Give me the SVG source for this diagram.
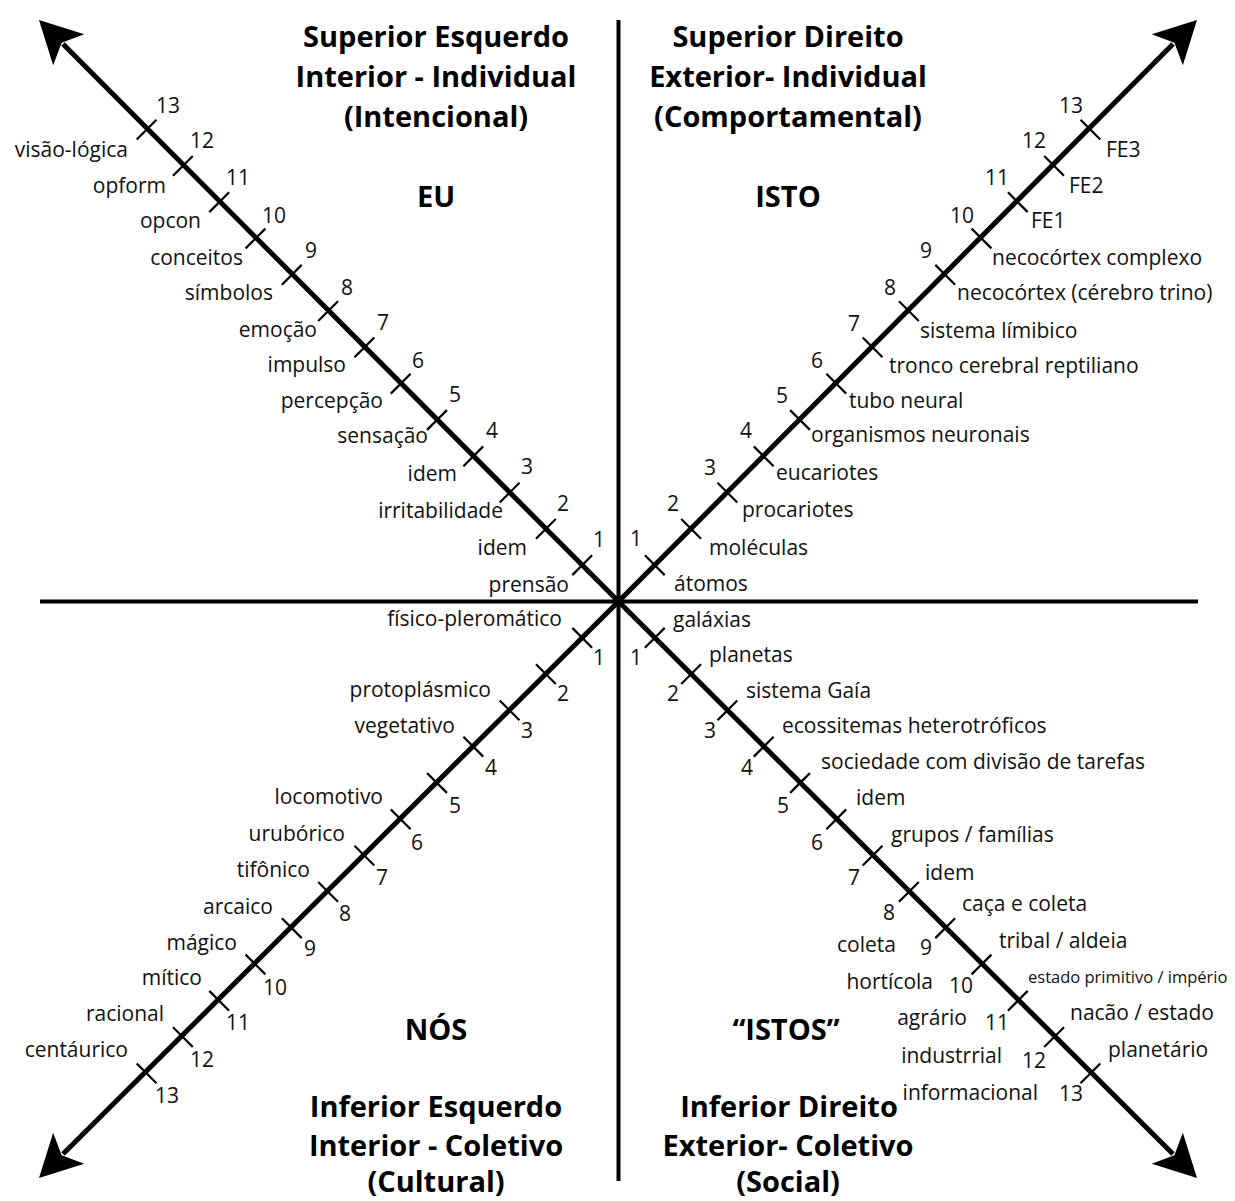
<svg xmlns="http://www.w3.org/2000/svg" xmlns:xlink="http://www.w3.org/1999/xlink" width="1235" height="1201" viewBox="0 0 1235 1201">
<style>
.lab{font-family:"Open Sans","Noto Sans","DejaVu Sans",sans-serif;font-size:21px;fill:#111}
.num{font-family:"Open Sans","Noto Sans","DejaVu Sans",sans-serif;font-size:21px;fill:#111;text-anchor:middle}
.e{text-anchor:end}
.sm{font-size:16.5px}
.tit{font-family:"Open Sans","Noto Sans","DejaVu Sans",sans-serif;font-size:29px;font-weight:bold;fill:#000;text-anchor:middle}
.axis{stroke:#000;stroke-width:4;fill:none}
.diag{stroke:#000;stroke-width:5;fill:none}
.tick{stroke:#000;stroke-width:2.2}
</style>
<defs>
<path id="ah" d="M0,0 L-42,-22 L-32,0 L-42,22 Z" fill="#000"/>
<line id="tA" class="tick" x1="-9.9" y1="9.9" x2="9.9" y2="-9.9"/>
<line id="tB" class="tick" x1="-9.9" y1="-9.9" x2="9.9" y2="9.9"/>
</defs>
<rect width="1235" height="1201" fill="#fff"/>

<g id="connectors">
<line class="axis" x1="618.5" y1="20" x2="618.5" y2="1181"/>
<line class="axis" x1="40" y1="601.5" x2="1198" y2="601.5"/>
<line class="diag" x1="618.5" y1="601.5" x2="63" y2="44"/>
<line class="diag" x1="618.5" y1="601.5" x2="1173" y2="44"/>
<line class="diag" x1="618.5" y1="601.5" x2="63" y2="1154"/>
<line class="diag" x1="618.5" y1="601.5" x2="1173" y2="1154"/>
<use xlink:href="#ah" href="#ah" transform="translate(39,20) rotate(-135)"/>
<use xlink:href="#ah" href="#ah" transform="translate(1197,20) rotate(-45)"/>
<use xlink:href="#ah" href="#ah" transform="translate(39,1178) rotate(135)"/>
<use xlink:href="#ah" href="#ah" transform="translate(1197,1178) rotate(45)"/>
</g>

<g id="ticks-tl">
<use href="#tA" x="582.2" y="565.2"/><use href="#tA" x="545.9" y="528.9"/><use href="#tA" x="509.6" y="492.6"/><use href="#tA" x="473.3" y="456.3"/><use href="#tA" x="437" y="420"/><use href="#tA" x="400.7" y="383.7"/><use href="#tA" x="364.4" y="347.4"/><use href="#tA" x="328.1" y="311.1"/><use href="#tA" x="291.8" y="274.8"/><use href="#tA" x="255.5" y="238.5"/><use href="#tA" x="219.2" y="202.2"/><use href="#tA" x="182.9" y="165.9"/><use href="#tA" x="146.6" y="129.6"/>
</g>
<g id="ticks-tr">
<use href="#tB" x="654.8" y="565.2"/><use href="#tB" x="691.1" y="528.9"/><use href="#tB" x="727.4" y="492.6"/><use href="#tB" x="763.7" y="456.3"/><use href="#tB" x="800" y="420"/><use href="#tB" x="836.3" y="383.7"/><use href="#tB" x="872.6" y="347.4"/><use href="#tB" x="908.9" y="311.1"/><use href="#tB" x="945.2" y="274.8"/><use href="#tB" x="981.5" y="238.5"/><use href="#tB" x="1017.8" y="202.2"/><use href="#tB" x="1054.1" y="165.9"/><use href="#tB" x="1090.4" y="129.6"/>
</g>
<g id="ticks-bl">
<use href="#tB" x="582.2" y="637.8"/><use href="#tB" x="545.9" y="674.1"/><use href="#tB" x="509.6" y="710.4"/><use href="#tB" x="473.3" y="746.7"/><use href="#tB" x="437" y="783"/><use href="#tB" x="400.7" y="819.3"/><use href="#tB" x="364.4" y="855.6"/><use href="#tB" x="328.1" y="891.9"/><use href="#tB" x="291.8" y="928.2"/><use href="#tB" x="255.5" y="964.5"/><use href="#tB" x="219.2" y="1000.8"/><use href="#tB" x="182.9" y="1037.1"/><use href="#tB" x="146.6" y="1073.4"/>
</g>
<g id="ticks-br">
<use href="#tA" x="654.8" y="637.8"/><use href="#tA" x="691.1" y="674.1"/><use href="#tA" x="727.4" y="710.4"/><use href="#tA" x="763.7" y="746.7"/><use href="#tA" x="800" y="783"/><use href="#tA" x="836.3" y="819.3"/><use href="#tA" x="872.6" y="855.6"/><use href="#tA" x="908.9" y="891.9"/><use href="#tA" x="945.2" y="928.2"/><use href="#tA" x="981.5" y="964.5"/><use href="#tA" x="1017.8" y="1000.8"/><use href="#tA" x="1054.1" y="1037.1"/><use href="#tA" x="1090.4" y="1073.4"/>
</g>

<g id="titles">
<text class="tit" x="436" y="47">Superior Esquerdo</text>
<text class="tit" x="436" y="87">Interior - Individual</text>
<text class="tit" x="436" y="127">(Intencional)</text>
<text class="tit" x="436" y="207">EU</text>
<text class="tit" x="788" y="47">Superior Direito</text>
<text class="tit" x="788" y="87">Exterior- Individual</text>
<text class="tit" x="788" y="127">(Comportamental)</text>
<text class="tit" x="788" y="207">ISTO</text>
<text class="tit" x="436" y="1040">NÓS</text>
<text class="tit" x="786" y="1040">“ISTOS”</text>
<text class="tit" x="436" y="1117">Inferior Esquerdo</text>
<text class="tit" x="436" y="1156">Interior - Coletivo</text>
<text class="tit" x="436" y="1192">(Cultural)</text>
<text class="tit" x="789" y="1117">Inferior Direito</text>
<text class="tit" x="788" y="1156">Exterior- Coletivo</text>
<text class="tit" x="788" y="1192">(Social)</text>
</g>

<g id="labels-tl">
<text class="lab e" x="128" y="157">visão-lógica</text>
<text class="lab e" x="166" y="193">opform</text>
<text class="lab e" x="201" y="228">opcon</text>
<text class="lab e" x="243" y="265">conceitos</text>
<text class="lab e" x="273" y="300">símbolos</text>
<text class="lab e" x="317" y="337">emoção</text>
<text class="lab e" x="346" y="372">impulso</text>
<text class="lab e" x="383" y="408">percepção</text>
<text class="lab e" x="428" y="443">sensação</text>
<text class="lab e" x="457" y="481">idem</text>
<text class="lab e" x="503" y="518">irritabilidade</text>
<text class="lab e" x="527" y="555">idem</text>
<text class="lab e" x="569" y="592">prensão</text>
</g>
<g id="numbers-tl">
<text class="num" x="168" y="112.5">13</text>
<text class="num" x="202" y="147.5">12</text>
<text class="num" x="238" y="184.5">11</text>
<text class="num" x="274" y="222.5">10</text>
<text class="num" x="311" y="257.5">9</text>
<text class="num" x="347" y="294.5">8</text>
<text class="num" x="383" y="329.5">7</text>
<text class="num" x="418" y="367.5">6</text>
<text class="num" x="455" y="401.5">5</text>
<text class="num" x="492" y="437.5">4</text>
<text class="num" x="527" y="473.5">3</text>
<text class="num" x="563" y="510.5">2</text>
<text class="num" x="599" y="546.5">1</text>
</g>

<g id="labels-tr">
<text class="lab" x="1106" y="157">FE3</text>
<text class="lab" x="1069" y="193">FE2</text>
<text class="lab" x="1031" y="228">FE1</text>
<text class="lab" x="992" y="265">necocórtex complexo</text>
<text class="lab" x="957" y="300">necocórtex (cérebro trino)</text>
<text class="lab" x="920" y="338">sistema límibico</text>
<text class="lab" x="889" y="373">tronco cerebral reptiliano</text>
<text class="lab" x="849" y="408">tubo neural</text>
<text class="lab" x="811" y="442">organismos neuronais</text>
<text class="lab" x="776" y="480">eucariotes</text>
<text class="lab" x="742" y="517">procariotes</text>
<text class="lab" x="709" y="555">moléculas</text>
<text class="lab" x="674" y="591">átomos</text>
</g>
<g id="numbers-tr">
<text class="num" x="1071" y="112.5">13</text>
<text class="num" x="1034" y="147.5">12</text>
<text class="num" x="997" y="184.5">11</text>
<text class="num" x="962" y="222.5">10</text>
<text class="num" x="926" y="257.5">9</text>
<text class="num" x="890" y="294.5">8</text>
<text class="num" x="854" y="330.5">7</text>
<text class="num" x="817" y="367.5">6</text>
<text class="num" x="782" y="402.5">5</text>
<text class="num" x="746" y="437.5">4</text>
<text class="num" x="710" y="474.5">3</text>
<text class="num" x="673" y="510.5">2</text>
<text class="num" x="636" y="545.5">1</text>
</g>

<g id="labels-bl">
<text class="lab e" x="562" y="626">físico-pleromático</text>
<text class="lab e" x="491" y="697">protoplásmico</text>
<text class="lab e" x="455" y="733">vegetativo</text>
<text class="lab e" x="383" y="804">locomotivo</text>
<text class="lab e" x="345" y="841">urubórico</text>
<text class="lab e" x="310" y="877">tifônico</text>
<text class="lab e" x="273" y="914">arcaico</text>
<text class="lab e" x="237" y="950">mágico</text>
<text class="lab e" x="202" y="985">mítico</text>
<text class="lab e" x="164" y="1021">racional</text>
<text class="lab e" x="128" y="1057">centáurico</text>
</g>
<g id="numbers-bl">
<text class="num" x="599" y="664.5">1</text>
<text class="num" x="563" y="700.5">2</text>
<text class="num" x="527" y="737.5">3</text>
<text class="num" x="491" y="774.5">4</text>
<text class="num" x="455" y="812.5">5</text>
<text class="num" x="417" y="849.5">6</text>
<text class="num" x="382" y="884.5">7</text>
<text class="num" x="345" y="920.5">8</text>
<text class="num" x="310" y="955.5">9</text>
<text class="num" x="275" y="994.5">10</text>
<text class="num" x="238" y="1029.5">11</text>
<text class="num" x="202" y="1066.5">12</text>
<text class="num" x="167" y="1102.5">13</text>
</g>

<g id="labels-br">
<text class="lab" x="673" y="627">galáxias</text>
<text class="lab" x="709" y="662">planetas</text>
<text class="lab" x="746" y="698">sistema Gaía</text>
<text class="lab" x="782" y="733">ecossitemas heterotróficos</text>
<text class="lab" x="821" y="769">sociedade com divisão de tarefas</text>
<text class="lab" x="856" y="805">idem</text>
<text class="lab" x="891" y="842">grupos / famílias</text>
<text class="lab" x="925" y="880">idem</text>
<text class="lab" x="962" y="911">caça e coleta</text>
<text class="lab" x="999" y="948">tribal / aldeia</text>
<text class="lab sm" x="1028" y="983">estado primitivo / império</text>
<text class="lab" x="1070" y="1020">nacão / estado</text>
<text class="lab" x="1108" y="1057">planetário</text>
<text class="lab e" x="896" y="952">coleta</text>
<text class="lab e" x="933" y="989">hortícola</text>
<text class="lab e" x="967" y="1025">agrário</text>
<text class="lab e" x="1002" y="1063">industrrial</text>
<text class="lab e" x="1038" y="1100">informacional</text>
</g>
<g id="numbers-br">
<text class="num" x="636" y="664.5">1</text>
<text class="num" x="673" y="700.5">2</text>
<text class="num" x="710" y="737.5">3</text>
<text class="num" x="747" y="774.5">4</text>
<text class="num" x="783" y="812.5">5</text>
<text class="num" x="817" y="849.5">6</text>
<text class="num" x="854" y="884.5">7</text>
<text class="num" x="889" y="919.5">8</text>
<text class="num" x="926" y="954.5">9</text>
<text class="num" x="961" y="992.5">10</text>
<text class="num" x="997" y="1029.5">11</text>
<text class="num" x="1034" y="1067.5">12</text>
<text class="num" x="1071" y="1100.5">13</text>
</g>
</svg>
